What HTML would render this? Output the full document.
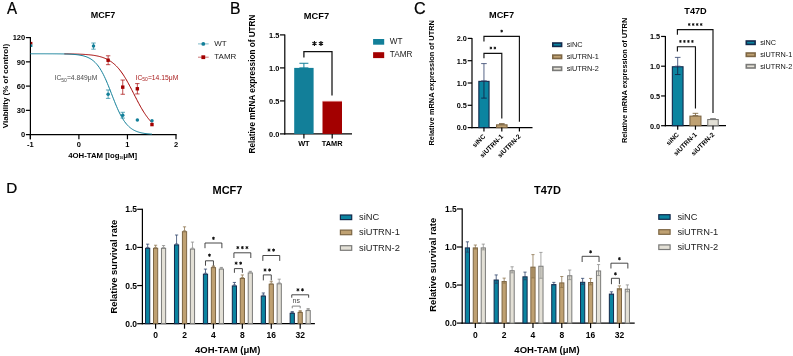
<!DOCTYPE html>
<html><head><meta charset="utf-8"><style>
html,body{margin:0;padding:0;background:#fff;overflow:hidden;}
svg{display:block;font-family:"Liberation Sans", sans-serif;will-change:transform;-webkit-font-smoothing:antialiased;}
</style></head><body>
<svg width="793" height="356" viewBox="0 0 793 356">
<rect x="0" y="0" width="793" height="356" fill="#fff"/>
<text transform="translate(6.9 13.7) scale(0.93 1)" font-size="16.2" fill="#000" stroke="#000" stroke-width="0.25">A</text>
<text transform="translate(230.1 13.7) scale(0.97 1)" font-size="16.2" fill="#000" stroke="#000" stroke-width="0.25">B</text>
<text transform="translate(413.9 13.7) scale(1.0 1)" font-size="16.2" fill="#000" stroke="#000" stroke-width="0.25">C</text>
<text transform="translate(6.3 193.1) scale(0.99 1)" font-size="15.4" fill="#000" stroke="#000" stroke-width="0.25">D</text>
<line x1="30.40" y1="37.10" x2="30.40" y2="139.30" stroke="#000" stroke-width="1.2" />
<line x1="29.80" y1="134.60" x2="176.60" y2="134.60" stroke="#000" stroke-width="1.2" />
<line x1="25.90" y1="134.60" x2="30.40" y2="134.60" stroke="#000" stroke-width="1.2" />
<text x="25.20" y="137.28" font-size="7.5" text-anchor="end" fill="#000" font-weight="bold" >0</text>
<line x1="25.90" y1="110.35" x2="30.40" y2="110.35" stroke="#000" stroke-width="1.2" />
<text x="25.20" y="113.04" font-size="7.5" text-anchor="end" fill="#000" font-weight="bold" >30</text>
<line x1="25.90" y1="86.10" x2="30.40" y2="86.10" stroke="#000" stroke-width="1.2" />
<text x="25.20" y="88.79" font-size="7.5" text-anchor="end" fill="#000" font-weight="bold" >60</text>
<line x1="25.90" y1="61.85" x2="30.40" y2="61.85" stroke="#000" stroke-width="1.2" />
<text x="25.20" y="64.54" font-size="7.5" text-anchor="end" fill="#000" font-weight="bold" >90</text>
<line x1="25.90" y1="37.60" x2="30.40" y2="37.60" stroke="#000" stroke-width="1.2" />
<text x="25.20" y="40.29" font-size="7.5" text-anchor="end" fill="#000" font-weight="bold" >120</text>
<line x1="30.35" y1="134.60" x2="30.35" y2="139.30" stroke="#000" stroke-width="1.2" />
<text x="30.35" y="147.38" font-size="7.5" text-anchor="middle" fill="#000" font-weight="bold" >-1</text>
<line x1="78.90" y1="134.60" x2="78.90" y2="139.30" stroke="#000" stroke-width="1.2" />
<text x="78.90" y="147.38" font-size="7.5" text-anchor="middle" fill="#000" font-weight="bold" >0</text>
<line x1="127.45" y1="134.60" x2="127.45" y2="139.30" stroke="#000" stroke-width="1.2" />
<text x="127.45" y="147.38" font-size="7.5" text-anchor="middle" fill="#000" font-weight="bold" >1</text>
<line x1="176.00" y1="134.60" x2="176.00" y2="139.30" stroke="#000" stroke-width="1.2" />
<text x="176.00" y="147.38" font-size="7.5" text-anchor="middle" fill="#000" font-weight="bold" >2</text>
<text x="103.00" y="18.12" font-size="9" text-anchor="middle" fill="#000" font-weight="bold" >MCF7</text>
<text x="102.60" y="157.79" font-size="7.8" text-anchor="middle" fill="#000" font-weight="bold" >4OH-TAM [log<tspan font-size="3.2" dy="1.2">10</tspan><tspan dy="-1.2">μM]</tspan></text>
<text x="7.50" y="86.00" font-size="8" text-anchor="middle" fill="#000" font-weight="bold" transform="rotate(-90 7.50 86.00)" >Viability (% of control)</text>
<polyline points="64.34,53.86 65.07,53.87 65.80,53.88 66.53,53.88 67.26,53.89 67.99,53.90 68.72,53.91 69.45,53.92 70.18,53.93 70.91,53.94 71.64,53.96 72.37,53.97 73.10,53.99 73.83,54.00 74.56,54.02 75.29,54.04 76.02,54.06 76.75,54.08 77.48,54.10 78.21,54.12 78.94,54.15 79.67,54.18 80.40,54.21 81.13,54.24 81.86,54.27 82.59,54.31 83.32,54.35 84.05,54.39 84.78,54.44 85.51,54.49 86.24,54.54 86.97,54.60 87.70,54.66 88.43,54.72 89.16,54.79 89.89,54.86 90.62,54.94 91.36,55.03 92.09,55.12 92.82,55.22 93.55,55.32 94.28,55.43 95.01,55.55 95.74,55.68 96.47,55.82 97.20,55.97 97.93,56.12 98.66,56.29 99.39,56.47 100.12,56.66 100.85,56.86 101.58,57.08 102.31,57.32 103.04,57.57 103.77,57.83 104.50,58.11 105.23,58.41 105.96,58.73 106.69,59.08 107.42,59.44 108.15,59.83 108.88,60.24 109.61,60.67 110.34,61.13 111.07,61.62 111.80,62.14 112.53,62.69 113.26,63.27 113.99,63.88 114.72,64.52 115.45,65.20 116.18,65.92 116.91,66.67 117.64,67.46 118.38,68.28 119.11,69.15 119.84,70.05 120.57,70.99 121.30,71.97 122.03,72.99 122.76,74.05 123.49,75.15 124.22,76.29 124.95,77.46 125.68,78.66 126.41,79.90 127.14,81.18 127.87,82.48 128.60,83.80 129.33,85.16 130.06,86.53 130.79,87.92 131.52,89.33 132.25,90.75 132.98,92.18 133.71,93.61 134.44,95.04 135.17,96.48 135.90,97.90 136.63,99.32 137.36,100.72 138.09,102.11 138.82,103.48 139.55,104.83 140.28,106.15 141.01,107.45 141.74,108.71 142.47,109.95 143.20,111.14 143.93,112.31 144.67,113.44 145.40,114.53 146.13,115.58 146.86,116.59 147.59,117.57 148.32,118.50 149.05,119.40 149.78,120.25 150.51,121.07 151.24,121.85 151.97,122.60" fill="none" stroke="#a30000" stroke-width="1.0"/>
<polyline points="30.35,53.77 31.36,53.77 32.38,53.77 33.39,53.77 34.40,53.77 35.42,53.77 36.43,53.78 37.44,53.78 38.46,53.78 39.47,53.78 40.48,53.78 41.50,53.78 42.51,53.78 43.53,53.78 44.54,53.78 45.55,53.79 46.57,53.79 47.58,53.79 48.59,53.80 49.61,53.80 50.62,53.80 51.63,53.81 52.65,53.81 53.66,53.82 54.67,53.82 55.69,53.83 56.70,53.84 57.71,53.85 58.73,53.86 59.74,53.87 60.75,53.89 61.77,53.91 62.78,53.92 63.79,53.95 64.81,53.97 65.82,54.00 66.84,54.03 67.85,54.06 68.86,54.10 69.88,54.15 70.89,54.20 71.90,54.26 72.92,54.33 73.93,54.41 74.94,54.50 75.96,54.60 76.97,54.71 77.98,54.84 79.00,54.98 80.01,55.15 81.02,55.34 82.04,55.55 83.05,55.79 84.06,56.06 85.08,56.37 86.09,56.71 87.10,57.10 88.12,57.55 89.13,58.04 90.15,58.60 91.16,59.22 92.17,59.92 93.19,60.70 94.20,61.57 95.21,62.53 96.23,63.60 97.24,64.77 98.25,66.06 99.27,67.48 100.28,69.02 101.29,70.69 102.31,72.49 103.32,74.42 104.33,76.48 105.35,78.66 106.36,80.95 107.37,83.34 108.39,85.81 109.40,88.35 110.42,90.94 111.43,93.56 112.44,96.18 113.46,98.78 114.47,101.35 115.48,103.86 116.50,106.29 117.51,108.63 118.52,110.86 119.54,112.97 120.55,114.97 121.56,116.83 122.58,118.57 123.59,120.17 124.60,121.64 125.62,122.99 126.63,124.23 127.64,125.34 128.66,126.36 129.67,127.27 130.68,128.09 131.70,128.82 132.71,129.48 133.73,130.07 134.74,130.59 135.75,131.06 136.77,131.47 137.78,131.84 138.79,132.17 139.81,132.46 140.82,132.71 141.83,132.94 142.85,133.13 143.86,133.31 144.87,133.47 145.89,133.60 146.90,133.72 147.91,133.83 148.93,133.92 149.94,134.00 150.95,134.08 151.97,134.14" fill="none" stroke="#127f99" stroke-width="1.0"/>
<rect x="30.80" y="41.90" width="1.60" height="2.60" fill="#a30000"/>
<rect x="30.80" y="44.40" width="1.60" height="2.60" fill="#127f99"/>
<line x1="93.51" y1="43.02" x2="93.51" y2="49.16" stroke="#127f99" stroke-width="0.7" />
<line x1="91.31" y1="43.02" x2="95.71" y2="43.02" stroke="#127f99" stroke-width="0.7" />
<line x1="91.31" y1="49.16" x2="95.71" y2="49.16" stroke="#127f99" stroke-width="0.7" />
<circle cx="93.51" cy="46.09" r="1.75" fill="#127f99"/>
<line x1="108.13" y1="89.98" x2="108.13" y2="98.39" stroke="#127f99" stroke-width="0.7" />
<line x1="105.93" y1="89.98" x2="110.33" y2="89.98" stroke="#127f99" stroke-width="0.7" />
<line x1="105.93" y1="98.39" x2="110.33" y2="98.39" stroke="#127f99" stroke-width="0.7" />
<circle cx="108.13" cy="94.19" r="1.75" fill="#127f99"/>
<line x1="122.74" y1="112.29" x2="122.74" y2="118.11" stroke="#127f99" stroke-width="0.7" />
<line x1="120.54" y1="112.29" x2="124.94" y2="112.29" stroke="#127f99" stroke-width="0.7" />
<line x1="120.54" y1="118.11" x2="124.94" y2="118.11" stroke="#127f99" stroke-width="0.7" />
<circle cx="122.74" cy="115.20" r="1.75" fill="#127f99"/>
<circle cx="137.35" cy="120.05" r="1.75" fill="#127f99"/>
<circle cx="151.97" cy="120.86" r="1.75" fill="#127f99"/>
<line x1="108.13" y1="55.79" x2="108.13" y2="64.68" stroke="#a30000" stroke-width="0.7" />
<line x1="105.93" y1="55.79" x2="110.33" y2="55.79" stroke="#a30000" stroke-width="0.7" />
<line x1="105.93" y1="64.68" x2="110.33" y2="64.68" stroke="#a30000" stroke-width="0.7" />
<rect x="106.43" y="58.54" width="3.40" height="3.40" fill="#a30000"/>
<line x1="122.74" y1="80.04" x2="122.74" y2="94.27" stroke="#a30000" stroke-width="0.7" />
<line x1="120.54" y1="80.04" x2="124.94" y2="80.04" stroke="#a30000" stroke-width="0.7" />
<line x1="120.54" y1="94.27" x2="124.94" y2="94.27" stroke="#a30000" stroke-width="0.7" />
<rect x="121.04" y="85.45" width="3.40" height="3.40" fill="#a30000"/>
<line x1="137.35" y1="83.60" x2="137.35" y2="93.94" stroke="#a30000" stroke-width="0.7" />
<line x1="135.15" y1="83.60" x2="139.55" y2="83.60" stroke="#a30000" stroke-width="0.7" />
<line x1="135.15" y1="93.94" x2="139.55" y2="93.94" stroke="#a30000" stroke-width="0.7" />
<rect x="135.65" y="87.07" width="3.40" height="3.40" fill="#a30000"/>
<rect x="150.27" y="122.88" width="3.40" height="3.40" fill="#a30000"/>
<text x="54.60" y="80.00" font-size="6.75" text-anchor="start" fill="#4a4a4a" >IC<tspan font-size="5" dy="1.5">50</tspan><tspan dy="-1.5">=4.849μM</tspan></text>
<text x="135.60" y="79.80" font-size="6.75" text-anchor="start" fill="#a81c1c" >IC<tspan font-size="5" dy="1.5">50</tspan><tspan dy="-1.5">=14.15μM</tspan></text>
<line x1="198.00" y1="43.90" x2="208.70" y2="43.90" stroke="#127f99" stroke-width="0.9" opacity="0.6"/>
<circle cx="203.3" cy="43.9" r="1.9" fill="#127f99"/>
<text x="214.30" y="46.06" font-size="8" text-anchor="start" fill="#1a1a1a" >WT</text>
<line x1="198.00" y1="57.20" x2="208.70" y2="57.20" stroke="#a30000" stroke-width="0.9" opacity="0.6"/>
<rect x="201.40" y="55.30" width="3.80" height="3.80" fill="#a30000"/>
<text x="214.30" y="59.36" font-size="8" text-anchor="start" fill="#1a1a1a" >TAMR</text>
<line x1="284.80" y1="34.40" x2="284.80" y2="134.50" stroke="#000" stroke-width="1.2" />
<line x1="284.20" y1="133.90" x2="352.00" y2="133.90" stroke="#000" stroke-width="1.2" />
<line x1="280.00" y1="133.90" x2="284.80" y2="133.90" stroke="#000" stroke-width="1.2" />
<text x="279.40" y="136.75" font-size="7.4" text-anchor="end" fill="#000" font-weight="bold" >0.0</text>
<line x1="280.00" y1="100.90" x2="284.80" y2="100.90" stroke="#000" stroke-width="1.2" />
<text x="279.40" y="103.75" font-size="7.4" text-anchor="end" fill="#000" font-weight="bold" >0.5</text>
<line x1="280.00" y1="67.90" x2="284.80" y2="67.90" stroke="#000" stroke-width="1.2" />
<text x="279.40" y="70.75" font-size="7.4" text-anchor="end" fill="#000" font-weight="bold" >1.0</text>
<line x1="280.00" y1="34.90" x2="284.80" y2="34.90" stroke="#000" stroke-width="1.2" />
<text x="279.40" y="37.75" font-size="7.4" text-anchor="end" fill="#000" font-weight="bold" >1.5</text>
<line x1="303.90" y1="133.90" x2="303.90" y2="138.60" stroke="#000" stroke-width="1.2" />
<text x="303.90" y="146.05" font-size="7.4" text-anchor="middle" fill="#000" font-weight="bold" >WT</text>
<line x1="332.20" y1="133.90" x2="332.20" y2="138.60" stroke="#000" stroke-width="1.2" />
<text x="332.20" y="146.05" font-size="7.4" text-anchor="middle" fill="#000" font-weight="bold" >TAMR</text>
<rect x="294.20" y="67.90" width="19.40" height="66.00" fill="#127f99"/>
<line x1="303.90" y1="63.28" x2="303.90" y2="67.90" stroke="#127f99" stroke-width="1" />
<line x1="299.40" y1="63.28" x2="308.40" y2="63.28" stroke="#127f99" stroke-width="1" />
<line x1="299.40" y1="67.90" x2="308.40" y2="67.90" stroke="#127f99" stroke-width="1" />
<rect x="322.50" y="101.56" width="19.50" height="32.34" fill="#a30000"/>
<line x1="322.50" y1="101.36" x2="342.00" y2="101.36" stroke="#c44" stroke-width="0.6" />
<path d="M303.9,57.4 V51.6 H332.0 V95.5" stroke="#111" stroke-width="1.25" fill="none" />
<path d="M314.45,41.10L314.45,45.90M312.37,42.30L316.53,44.70M316.53,42.30L312.37,44.70" stroke="#111" stroke-width="1.15" fill="none"/>
<path d="M320.95,41.10L320.95,45.90M318.87,42.30L323.03,44.70M323.03,42.30L318.87,44.70" stroke="#111" stroke-width="1.15" fill="none"/>
<text x="316.50" y="18.53" font-size="9.3" text-anchor="middle" fill="#000" font-weight="bold" >MCF7</text>
<text x="254.50" y="84.00" font-size="8.2" text-anchor="middle" fill="#000" font-weight="bold" transform="rotate(-90 254.50 84.00)" >Relative mRNA expression of UTRN</text>
<rect x="373.10" y="39.00" width="11.10" height="5.70" fill="#127f99"/>
<text x="389.80" y="43.84" font-size="8.2" text-anchor="start" fill="#1a1a1a" >WT</text>
<rect x="373.10" y="52.20" width="11.10" height="5.90" fill="#a30000"/>
<text x="389.80" y="57.24" font-size="8.2" text-anchor="start" fill="#1a1a1a" >TAMR</text>
<line x1="472.00" y1="37.90" x2="472.00" y2="128.20" stroke="#000" stroke-width="1.2" />
<line x1="471.40" y1="127.60" x2="532.50" y2="127.60" stroke="#000" stroke-width="1.2" />
<line x1="467.70" y1="127.60" x2="472.00" y2="127.60" stroke="#000" stroke-width="1.2" />
<text x="466.80" y="130.41" font-size="7.3" text-anchor="end" fill="#000" font-weight="bold" >0.0</text>
<line x1="467.70" y1="105.30" x2="472.00" y2="105.30" stroke="#000" stroke-width="1.2" />
<text x="466.80" y="108.11" font-size="7.3" text-anchor="end" fill="#000" font-weight="bold" >0.5</text>
<line x1="467.70" y1="83.00" x2="472.00" y2="83.00" stroke="#000" stroke-width="1.2" />
<text x="466.80" y="85.81" font-size="7.3" text-anchor="end" fill="#000" font-weight="bold" >1.0</text>
<line x1="467.70" y1="60.70" x2="472.00" y2="60.70" stroke="#000" stroke-width="1.2" />
<text x="466.80" y="63.51" font-size="7.3" text-anchor="end" fill="#000" font-weight="bold" >1.5</text>
<line x1="467.70" y1="38.40" x2="472.00" y2="38.40" stroke="#000" stroke-width="1.2" />
<text x="466.80" y="41.21" font-size="7.3" text-anchor="end" fill="#000" font-weight="bold" >2.0</text>
<rect x="478.85" y="81.36" width="10.20" height="46.24" fill="#0b84a0" stroke="#13294b" stroke-width="1.1"/>
<line x1="483.95" y1="63.60" x2="483.95" y2="80.81" stroke="#45557a" stroke-width="0.9" />
<line x1="481.15" y1="63.60" x2="486.75" y2="63.60" stroke="#45557a" stroke-width="0.9" />
<line x1="481.15" y1="80.81" x2="486.75" y2="80.81" stroke="#45557a" stroke-width="0.9" />
<line x1="483.95" y1="80.81" x2="483.95" y2="98.12" stroke="#13294b" stroke-width="0.9" />
<line x1="481.15" y1="98.12" x2="486.75" y2="98.12" stroke="#13294b" stroke-width="0.9" />
<line x1="483.95" y1="127.60" x2="483.95" y2="131.60" stroke="#000" stroke-width="1.2" />
<text x="485.75" y="137.00" font-size="6.6" text-anchor="end" fill="#000" font-weight="bold" transform="rotate(-45 485.75 137.00)" >siNC</text>
<rect x="496.55" y="124.85" width="10.50" height="2.75" fill="#bfa172" stroke="#7d6644" stroke-width="1.1"/>
<line x1="501.80" y1="123.63" x2="501.80" y2="124.30" stroke="#7d6644" stroke-width="0.9" />
<line x1="499.00" y1="123.63" x2="504.60" y2="123.63" stroke="#7d6644" stroke-width="0.9" />
<line x1="499.00" y1="124.30" x2="504.60" y2="124.30" stroke="#7d6644" stroke-width="0.9" />
<line x1="501.80" y1="127.60" x2="501.80" y2="131.60" stroke="#000" stroke-width="1.2" />
<text x="503.60" y="137.00" font-size="6.6" text-anchor="end" fill="#000" font-weight="bold" transform="rotate(-45 503.60 137.00)" >siUTRN-1</text>
<rect x="514.30" y="127.61" width="10.20" height="-0.01" fill="#e3e0d6" stroke="#7a7a78" stroke-width="1.1"/>
<line x1="519.40" y1="127.60" x2="519.40" y2="131.60" stroke="#000" stroke-width="1.2" />
<text x="521.20" y="137.00" font-size="6.6" text-anchor="end" fill="#000" font-weight="bold" transform="rotate(-45 521.20 137.00)" >siUTRN-2</text>
<text x="501.60" y="18.49" font-size="9.2" text-anchor="middle" fill="#000" font-weight="bold" >MCF7</text>
<text x="434.00" y="82.80" font-size="7.4" text-anchor="middle" fill="#000" font-weight="bold" transform="rotate(-90 434.00 82.80)" >Relative mRNA expression of UTRN</text>
<path d="M483.95,41.4 V36.3 H519.4 V121.7" stroke="#111" stroke-width="1.15" fill="none" />
<path d="M501.67,29.75L501.67,32.45M500.51,30.43L502.84,31.78M502.84,30.43L500.51,31.78" stroke="#111" stroke-width="0.95" fill="none"/>
<path d="M483.95,58.2 V53.3 H501.8 V118.5" stroke="#111" stroke-width="1.15" fill="none" />
<path d="M490.88,46.65L490.88,49.35M489.71,47.33L492.04,48.67M492.04,47.33L489.71,48.67" stroke="#111" stroke-width="0.95" fill="none"/>
<path d="M494.88,46.65L494.88,49.35M493.71,47.33L496.04,48.67M496.04,47.33L493.71,48.67" stroke="#111" stroke-width="0.95" fill="none"/>
<rect x="552.80" y="43.00" width="8.80" height="3.40" fill="#0b84a0" stroke="#13294b" stroke-width="1.6"/>
<text x="566.70" y="47.21" font-size="7.3" text-anchor="start" fill="#111" >siNC</text>
<rect x="552.80" y="55.10" width="8.80" height="3.40" fill="#bfa172" stroke="#7d6644" stroke-width="1.6"/>
<text x="566.70" y="59.31" font-size="7.3" text-anchor="start" fill="#111" >siUTRN-1</text>
<rect x="552.80" y="67.00" width="8.80" height="3.40" fill="#e3e0d6" stroke="#7a7a78" stroke-width="1.6"/>
<text x="566.70" y="71.21" font-size="7.3" text-anchor="start" fill="#111" >siUTRN-2</text>
<line x1="665.40" y1="35.95" x2="665.40" y2="126.30" stroke="#000" stroke-width="1.2" />
<line x1="664.80" y1="125.70" x2="726.00" y2="125.70" stroke="#000" stroke-width="1.2" />
<line x1="661.10" y1="125.70" x2="665.40" y2="125.70" stroke="#000" stroke-width="1.2" />
<text x="660.20" y="128.51" font-size="7.3" text-anchor="end" fill="#000" font-weight="bold" >0.0</text>
<line x1="661.10" y1="95.95" x2="665.40" y2="95.95" stroke="#000" stroke-width="1.2" />
<text x="660.20" y="98.76" font-size="7.3" text-anchor="end" fill="#000" font-weight="bold" >0.5</text>
<line x1="661.10" y1="66.20" x2="665.40" y2="66.20" stroke="#000" stroke-width="1.2" />
<text x="660.20" y="69.01" font-size="7.3" text-anchor="end" fill="#000" font-weight="bold" >1.0</text>
<line x1="661.10" y1="36.45" x2="665.40" y2="36.45" stroke="#000" stroke-width="1.2" />
<text x="660.20" y="39.26" font-size="7.3" text-anchor="end" fill="#000" font-weight="bold" >1.5</text>
<rect x="672.35" y="66.75" width="10.70" height="58.95" fill="#0b84a0" stroke="#13294b" stroke-width="1.1"/>
<line x1="677.70" y1="57.39" x2="677.70" y2="66.20" stroke="#45557a" stroke-width="0.9" />
<line x1="674.90" y1="57.39" x2="680.50" y2="57.39" stroke="#45557a" stroke-width="0.9" />
<line x1="674.90" y1="66.20" x2="680.50" y2="66.20" stroke="#45557a" stroke-width="0.9" />
<line x1="677.70" y1="66.20" x2="677.70" y2="74.53" stroke="#13294b" stroke-width="0.9" />
<line x1="674.90" y1="74.53" x2="680.50" y2="74.53" stroke="#13294b" stroke-width="0.9" />
<line x1="677.70" y1="125.70" x2="677.70" y2="129.70" stroke="#000" stroke-width="1.2" />
<text x="679.50" y="135.10" font-size="6.6" text-anchor="end" fill="#000" font-weight="bold" transform="rotate(-45 679.50 135.10)" >siNC</text>
<rect x="689.95" y="116.14" width="11.00" height="9.56" fill="#bfa172" stroke="#7d6644" stroke-width="1.1"/>
<line x1="695.45" y1="113.32" x2="695.45" y2="115.59" stroke="#7d6644" stroke-width="0.9" />
<line x1="692.65" y1="113.32" x2="698.25" y2="113.32" stroke="#7d6644" stroke-width="0.9" />
<line x1="692.65" y1="115.59" x2="698.25" y2="115.59" stroke="#7d6644" stroke-width="0.9" />
<line x1="695.45" y1="125.70" x2="695.45" y2="129.70" stroke="#000" stroke-width="1.2" />
<text x="697.25" y="135.10" font-size="6.6" text-anchor="end" fill="#000" font-weight="bold" transform="rotate(-45 697.25 135.10)" >siUTRN-1</text>
<rect x="707.75" y="119.53" width="10.50" height="6.17" fill="#e3e0d6" stroke="#7a7a78" stroke-width="1.1"/>
<line x1="713.00" y1="118.68" x2="713.00" y2="118.98" stroke="#7a7a78" stroke-width="0.9" />
<line x1="710.20" y1="118.68" x2="715.80" y2="118.68" stroke="#7a7a78" stroke-width="0.9" />
<line x1="710.20" y1="118.98" x2="715.80" y2="118.98" stroke="#7a7a78" stroke-width="0.9" />
<line x1="713.00" y1="125.70" x2="713.00" y2="129.70" stroke="#000" stroke-width="1.2" />
<text x="714.80" y="135.10" font-size="6.6" text-anchor="end" fill="#000" font-weight="bold" transform="rotate(-45 714.80 135.10)" >siUTRN-2</text>
<text x="695.50" y="14.29" font-size="9.2" text-anchor="middle" fill="#000" font-weight="bold" >T47D</text>
<text x="627.50" y="80.40" font-size="7.4" text-anchor="middle" fill="#000" font-weight="bold" transform="rotate(-90 627.50 80.40)" >Relative mRNA expression of UTRN</text>
<path d="M677.4,34.7 V29.6 H713.0 V113.0" stroke="#111" stroke-width="1.15" fill="none" />
<path d="M689.20,23.15L689.20,25.85M688.03,23.82L690.37,25.18M690.37,23.82L688.03,25.18" stroke="#111" stroke-width="0.95" fill="none"/>
<path d="M693.20,23.15L693.20,25.85M692.03,23.82L694.37,25.18M694.37,23.82L692.03,25.18" stroke="#111" stroke-width="0.95" fill="none"/>
<path d="M697.20,23.15L697.20,25.85M696.03,23.82L698.37,25.18M698.37,23.82L696.03,25.18" stroke="#111" stroke-width="0.95" fill="none"/>
<path d="M701.20,23.15L701.20,25.85M700.03,23.82L702.37,25.18M702.37,23.82L700.03,25.18" stroke="#111" stroke-width="0.95" fill="none"/>
<path d="M677.4,51.6 V46.7 H695.45 V108.4" stroke="#111" stroke-width="1.15" fill="none" />
<path d="M680.42,40.05L680.42,42.75M679.26,40.73L681.59,42.07M681.59,40.73L679.26,42.07" stroke="#111" stroke-width="0.95" fill="none"/>
<path d="M684.42,40.05L684.42,42.75M683.26,40.73L685.59,42.07M685.59,40.73L683.26,42.07" stroke="#111" stroke-width="0.95" fill="none"/>
<path d="M688.42,40.05L688.42,42.75M687.26,40.73L689.59,42.07M689.59,40.73L687.26,42.07" stroke="#111" stroke-width="0.95" fill="none"/>
<path d="M692.42,40.05L692.42,42.75M691.26,40.73L693.59,42.07M693.59,40.73L691.26,42.07" stroke="#111" stroke-width="0.95" fill="none"/>
<rect x="746.30" y="41.00" width="8.80" height="3.40" fill="#0b84a0" stroke="#13294b" stroke-width="1.6"/>
<text x="760.20" y="45.21" font-size="7.3" text-anchor="start" fill="#111" >siNC</text>
<rect x="746.30" y="53.00" width="8.80" height="3.40" fill="#bfa172" stroke="#7d6644" stroke-width="1.6"/>
<text x="760.20" y="57.21" font-size="7.3" text-anchor="start" fill="#111" >siUTRN-1</text>
<rect x="746.30" y="64.60" width="8.80" height="3.40" fill="#e3e0d6" stroke="#7a7a78" stroke-width="1.6"/>
<text x="760.20" y="68.81" font-size="7.3" text-anchor="start" fill="#111" >siUTRN-2</text>
<line x1="142.40" y1="208.79" x2="142.40" y2="324.30" stroke="#000" stroke-width="1.2" />
<line x1="141.80" y1="323.70" x2="314.90" y2="323.70" stroke="#000" stroke-width="1.2" />
<line x1="137.20" y1="323.70" x2="142.40" y2="323.70" stroke="#000" stroke-width="1.2" />
<text x="137.00" y="326.74" font-size="8.5" text-anchor="end" fill="#000" font-weight="bold" >0.0</text>
<line x1="137.20" y1="285.56" x2="142.40" y2="285.56" stroke="#000" stroke-width="1.2" />
<text x="137.00" y="288.61" font-size="8.5" text-anchor="end" fill="#000" font-weight="bold" >0.5</text>
<line x1="137.20" y1="247.43" x2="142.40" y2="247.43" stroke="#000" stroke-width="1.2" />
<text x="137.00" y="250.47" font-size="8.5" text-anchor="end" fill="#000" font-weight="bold" >1.0</text>
<line x1="137.20" y1="209.29" x2="142.40" y2="209.29" stroke="#000" stroke-width="1.2" />
<text x="137.00" y="212.34" font-size="8.5" text-anchor="end" fill="#000" font-weight="bold" >1.5</text>
<rect x="145.55" y="248.33" width="4.20" height="75.37" fill="#0b84a0" stroke="#13294b" stroke-width="1.0"/>
<line x1="147.65" y1="244.15" x2="147.65" y2="247.43" stroke="#2a3f66" stroke-width="0.75" />
<line x1="146.05" y1="244.15" x2="149.25" y2="244.15" stroke="#2a3f66" stroke-width="0.75" />
<line x1="146.05" y1="247.43" x2="149.25" y2="247.43" stroke="#2a3f66" stroke-width="0.75" />
<rect x="153.50" y="248.33" width="4.20" height="75.37" fill="#bfa172" stroke="#7d6644" stroke-width="1.0"/>
<line x1="155.60" y1="245.22" x2="155.60" y2="247.43" stroke="#8a7048" stroke-width="0.75" />
<line x1="154.00" y1="245.22" x2="157.20" y2="245.22" stroke="#8a7048" stroke-width="0.75" />
<line x1="154.00" y1="247.43" x2="157.20" y2="247.43" stroke="#8a7048" stroke-width="0.75" />
<rect x="161.45" y="248.33" width="4.20" height="75.37" fill="#e3e0d6" stroke="#7a7a78" stroke-width="1.0"/>
<line x1="163.55" y1="245.52" x2="163.55" y2="247.43" stroke="#8a8a88" stroke-width="0.75" />
<line x1="161.95" y1="245.52" x2="165.15" y2="245.52" stroke="#8a8a88" stroke-width="0.75" />
<line x1="161.95" y1="247.43" x2="165.15" y2="247.43" stroke="#8a8a88" stroke-width="0.75" />
<line x1="155.60" y1="323.70" x2="155.60" y2="328.70" stroke="#000" stroke-width="1.2" />
<text x="155.60" y="338.04" font-size="8.5" text-anchor="middle" fill="#000" font-weight="bold" >0</text>
<rect x="174.47" y="244.90" width="4.20" height="78.80" fill="#0b84a0" stroke="#13294b" stroke-width="1.0"/>
<line x1="176.57" y1="235.00" x2="176.57" y2="244.00" stroke="#2a3f66" stroke-width="0.75" />
<line x1="174.97" y1="235.00" x2="178.17" y2="235.00" stroke="#2a3f66" stroke-width="0.75" />
<line x1="174.97" y1="244.00" x2="178.17" y2="244.00" stroke="#2a3f66" stroke-width="0.75" />
<rect x="182.42" y="231.70" width="4.20" height="92.00" fill="#bfa172" stroke="#7d6644" stroke-width="1.0"/>
<line x1="184.52" y1="226.84" x2="184.52" y2="230.80" stroke="#8a7048" stroke-width="0.75" />
<line x1="182.92" y1="226.84" x2="186.12" y2="226.84" stroke="#8a7048" stroke-width="0.75" />
<line x1="182.92" y1="230.80" x2="186.12" y2="230.80" stroke="#8a7048" stroke-width="0.75" />
<rect x="190.37" y="249.09" width="4.20" height="74.61" fill="#e3e0d6" stroke="#7a7a78" stroke-width="1.0"/>
<line x1="192.47" y1="242.09" x2="192.47" y2="248.19" stroke="#8a8a88" stroke-width="0.75" />
<line x1="190.87" y1="242.09" x2="194.07" y2="242.09" stroke="#8a8a88" stroke-width="0.75" />
<line x1="190.87" y1="248.19" x2="194.07" y2="248.19" stroke="#8a8a88" stroke-width="0.75" />
<line x1="184.52" y1="323.70" x2="184.52" y2="328.70" stroke="#000" stroke-width="1.2" />
<text x="184.52" y="338.04" font-size="8.5" text-anchor="middle" fill="#000" font-weight="bold" >2</text>
<rect x="203.39" y="274.19" width="4.20" height="49.51" fill="#0b84a0" stroke="#13294b" stroke-width="1.0"/>
<line x1="205.49" y1="269.09" x2="205.49" y2="273.29" stroke="#2a3f66" stroke-width="0.75" />
<line x1="203.89" y1="269.09" x2="207.09" y2="269.09" stroke="#2a3f66" stroke-width="0.75" />
<line x1="203.89" y1="273.29" x2="207.09" y2="273.29" stroke="#2a3f66" stroke-width="0.75" />
<rect x="211.34" y="267.63" width="4.20" height="56.07" fill="#bfa172" stroke="#7d6644" stroke-width="1.0"/>
<line x1="213.44" y1="265.96" x2="213.44" y2="266.73" stroke="#8a7048" stroke-width="0.75" />
<line x1="211.84" y1="265.96" x2="215.04" y2="265.96" stroke="#8a7048" stroke-width="0.75" />
<line x1="211.84" y1="266.73" x2="215.04" y2="266.73" stroke="#8a7048" stroke-width="0.75" />
<rect x="219.29" y="269.08" width="4.20" height="54.62" fill="#e3e0d6" stroke="#7a7a78" stroke-width="1.0"/>
<line x1="221.39" y1="267.41" x2="221.39" y2="268.18" stroke="#8a8a88" stroke-width="0.75" />
<line x1="219.79" y1="267.41" x2="222.99" y2="267.41" stroke="#8a8a88" stroke-width="0.75" />
<line x1="219.79" y1="268.18" x2="222.99" y2="268.18" stroke="#8a8a88" stroke-width="0.75" />
<line x1="213.44" y1="323.70" x2="213.44" y2="328.70" stroke="#000" stroke-width="1.2" />
<text x="213.44" y="338.04" font-size="8.5" text-anchor="middle" fill="#000" font-weight="bold" >4</text>
<rect x="232.31" y="285.93" width="4.20" height="37.77" fill="#0b84a0" stroke="#13294b" stroke-width="1.0"/>
<line x1="234.41" y1="282.44" x2="234.41" y2="285.03" stroke="#2a3f66" stroke-width="0.75" />
<line x1="232.81" y1="282.44" x2="236.01" y2="282.44" stroke="#2a3f66" stroke-width="0.75" />
<line x1="232.81" y1="285.03" x2="236.01" y2="285.03" stroke="#2a3f66" stroke-width="0.75" />
<rect x="240.26" y="278.46" width="4.20" height="45.24" fill="#bfa172" stroke="#7d6644" stroke-width="1.0"/>
<line x1="242.36" y1="274.96" x2="242.36" y2="277.56" stroke="#8a7048" stroke-width="0.75" />
<line x1="240.76" y1="274.96" x2="243.96" y2="274.96" stroke="#8a7048" stroke-width="0.75" />
<line x1="240.76" y1="277.56" x2="243.96" y2="277.56" stroke="#8a7048" stroke-width="0.75" />
<rect x="248.21" y="272.97" width="4.20" height="50.73" fill="#e3e0d6" stroke="#7a7a78" stroke-width="1.0"/>
<line x1="250.31" y1="271.30" x2="250.31" y2="272.07" stroke="#8a8a88" stroke-width="0.75" />
<line x1="248.71" y1="271.30" x2="251.91" y2="271.30" stroke="#8a8a88" stroke-width="0.75" />
<line x1="248.71" y1="272.07" x2="251.91" y2="272.07" stroke="#8a8a88" stroke-width="0.75" />
<line x1="242.36" y1="323.70" x2="242.36" y2="328.70" stroke="#000" stroke-width="1.2" />
<text x="242.36" y="338.04" font-size="8.5" text-anchor="middle" fill="#000" font-weight="bold" >8</text>
<rect x="261.23" y="296.08" width="4.20" height="27.62" fill="#0b84a0" stroke="#13294b" stroke-width="1.0"/>
<line x1="263.33" y1="292.96" x2="263.33" y2="295.18" stroke="#2a3f66" stroke-width="0.75" />
<line x1="261.73" y1="292.96" x2="264.93" y2="292.96" stroke="#2a3f66" stroke-width="0.75" />
<line x1="261.73" y1="295.18" x2="264.93" y2="295.18" stroke="#2a3f66" stroke-width="0.75" />
<rect x="269.18" y="284.18" width="4.20" height="39.52" fill="#bfa172" stroke="#7d6644" stroke-width="1.0"/>
<line x1="271.28" y1="281.29" x2="271.28" y2="283.28" stroke="#8a7048" stroke-width="0.75" />
<line x1="269.68" y1="281.29" x2="272.88" y2="281.29" stroke="#8a7048" stroke-width="0.75" />
<line x1="269.68" y1="283.28" x2="272.88" y2="283.28" stroke="#8a7048" stroke-width="0.75" />
<rect x="277.13" y="283.80" width="4.20" height="39.90" fill="#e3e0d6" stroke="#7a7a78" stroke-width="1.0"/>
<line x1="279.23" y1="279.16" x2="279.23" y2="282.90" stroke="#8a8a88" stroke-width="0.75" />
<line x1="277.63" y1="279.16" x2="280.83" y2="279.16" stroke="#8a8a88" stroke-width="0.75" />
<line x1="277.63" y1="282.90" x2="280.83" y2="282.90" stroke="#8a8a88" stroke-width="0.75" />
<line x1="271.28" y1="323.70" x2="271.28" y2="328.70" stroke="#000" stroke-width="1.2" />
<text x="271.28" y="338.04" font-size="8.5" text-anchor="middle" fill="#000" font-weight="bold" >16</text>
<rect x="290.15" y="313.31" width="4.20" height="10.39" fill="#0b84a0" stroke="#13294b" stroke-width="1.0"/>
<line x1="292.25" y1="311.65" x2="292.25" y2="312.41" stroke="#2a3f66" stroke-width="0.75" />
<line x1="290.65" y1="311.65" x2="293.85" y2="311.65" stroke="#2a3f66" stroke-width="0.75" />
<line x1="290.65" y1="312.41" x2="293.85" y2="312.41" stroke="#2a3f66" stroke-width="0.75" />
<rect x="298.10" y="312.47" width="4.20" height="11.23" fill="#bfa172" stroke="#7d6644" stroke-width="1.0"/>
<line x1="300.20" y1="310.66" x2="300.20" y2="311.57" stroke="#8a7048" stroke-width="0.75" />
<line x1="298.60" y1="310.66" x2="301.80" y2="310.66" stroke="#8a7048" stroke-width="0.75" />
<line x1="298.60" y1="311.57" x2="301.80" y2="311.57" stroke="#8a7048" stroke-width="0.75" />
<rect x="306.05" y="310.57" width="4.20" height="13.13" fill="#e3e0d6" stroke="#7a7a78" stroke-width="1.0"/>
<line x1="308.15" y1="308.52" x2="308.15" y2="309.67" stroke="#8a8a88" stroke-width="0.75" />
<line x1="306.55" y1="308.52" x2="309.75" y2="308.52" stroke="#8a8a88" stroke-width="0.75" />
<line x1="306.55" y1="309.67" x2="309.75" y2="309.67" stroke="#8a8a88" stroke-width="0.75" />
<line x1="300.20" y1="323.70" x2="300.20" y2="328.70" stroke="#000" stroke-width="1.2" />
<text x="300.20" y="338.04" font-size="8.5" text-anchor="middle" fill="#000" font-weight="bold" >32</text>
<path d="M204.99,248.2 V243 H221.89 V248.2" stroke="#333" stroke-width="0.9" fill="none" />
<path d="M213.44,236.75L213.44,239.85M212.10,237.53L214.78,239.08M214.78,237.53L212.10,239.08" stroke="#111" stroke-width="1.0" fill="none"/>
<path d="M205.49,265.7 V260.8 H213.44 V265.7" stroke="#333" stroke-width="0.9" fill="none" />
<path d="M209.47,253.65L209.47,256.75M208.12,254.42L210.81,255.97M210.81,254.42L208.12,255.97" stroke="#111" stroke-width="1.0" fill="none"/>
<path d="M233.91,258.0 V252.8 H250.81 V258.0" stroke="#333" stroke-width="0.9" fill="none" />
<path d="M237.81,246.05L237.81,249.15M236.47,246.82L239.15,248.38M239.15,246.82L236.47,248.38" stroke="#111" stroke-width="1.0" fill="none"/>
<path d="M242.36,246.05L242.36,249.15M241.02,246.82L243.70,248.38M243.70,246.82L241.02,248.38" stroke="#111" stroke-width="1.0" fill="none"/>
<path d="M246.91,246.05L246.91,249.15M245.57,246.82L248.25,248.38M248.25,246.82L245.57,248.38" stroke="#111" stroke-width="1.0" fill="none"/>
<path d="M234.41,272.8 V268.6 H242.36 V272.8" stroke="#333" stroke-width="0.9" fill="none" />
<path d="M236.11,261.65L236.11,264.75M234.77,262.43L237.45,263.97M237.45,262.43L234.77,263.97" stroke="#111" stroke-width="1.0" fill="none"/>
<path d="M240.66,261.65L240.66,264.75M239.32,262.43L242.00,263.97M242.00,262.43L239.32,263.97" stroke="#111" stroke-width="1.0" fill="none"/>
<path d="M262.83,260.9 V255.5 H279.73 V260.9" stroke="#333" stroke-width="0.9" fill="none" />
<path d="M269.00,248.55L269.00,251.65M267.66,249.32L270.35,250.88M270.35,249.32L267.66,250.88" stroke="#111" stroke-width="1.0" fill="none"/>
<path d="M273.56,248.55L273.56,251.65M272.21,249.32L274.90,250.88M274.90,249.32L272.21,250.88" stroke="#111" stroke-width="1.0" fill="none"/>
<path d="M263.33,280.4 V274.9 H271.28 V280.4" stroke="#333" stroke-width="0.9" fill="none" />
<path d="M265.03,268.45L265.03,271.55M263.69,269.23L266.37,270.77M266.37,269.23L263.69,270.77" stroke="#111" stroke-width="1.0" fill="none"/>
<path d="M269.58,268.45L269.58,271.55M268.24,269.23L270.92,270.77M270.92,269.23L268.24,270.77" stroke="#111" stroke-width="1.0" fill="none"/>
<path d="M291.75,297.7 V294.8 H308.65 V297.7" stroke="#333" stroke-width="0.9" fill="none" />
<path d="M297.93,288.25L297.93,291.35M296.58,289.03L299.27,290.57M299.27,289.03L296.58,290.57" stroke="#111" stroke-width="1.0" fill="none"/>
<path d="M302.48,288.25L302.48,291.35M301.13,289.03L303.82,290.57M303.82,289.03L301.13,290.57" stroke="#111" stroke-width="1.0" fill="none"/>
<path d="M292.25,308.3 V306.1 H300.20 V308.3" stroke="#777" stroke-width="0.9" fill="none" />
<text x="296.23" y="303.11" font-size="7" text-anchor="middle" fill="#444" >ns</text>
<text x="227.50" y="194.04" font-size="11" text-anchor="middle" fill="#000" font-weight="bold" >MCF7</text>
<text x="116.60" y="266.60" font-size="9.4" text-anchor="middle" fill="#000" font-weight="bold" transform="rotate(-90 116.60 266.60)" >Relative survival rate</text>
<text x="227.70" y="352.90" font-size="9.5" text-anchor="middle" fill="#000" font-weight="bold" >4OH-TAM (μM)</text>
<rect x="340.40" y="215.00" width="11.30" height="4.60" fill="#0b84a0" stroke="#13294b" stroke-width="1.2"/>
<text x="359.00" y="220.13" font-size="9.3" text-anchor="start" fill="#222" >siNC</text>
<rect x="340.40" y="230.10" width="11.30" height="4.60" fill="#bfa172" stroke="#7d6644" stroke-width="1.2"/>
<text x="359.00" y="235.23" font-size="9.3" text-anchor="start" fill="#222" >siUTRN-1</text>
<rect x="340.40" y="245.70" width="11.30" height="4.60" fill="#e3e0d6" stroke="#7a7a78" stroke-width="1.2"/>
<text x="359.00" y="250.83" font-size="9.3" text-anchor="start" fill="#222" >siUTRN-2</text>
<line x1="462.20" y1="208.45" x2="462.20" y2="323.70" stroke="#000" stroke-width="1.2" />
<line x1="461.60" y1="323.10" x2="634.70" y2="323.10" stroke="#000" stroke-width="1.2" />
<line x1="457.00" y1="323.10" x2="462.20" y2="323.10" stroke="#000" stroke-width="1.2" />
<text x="456.80" y="326.14" font-size="8.5" text-anchor="end" fill="#000" font-weight="bold" >0.0</text>
<line x1="457.00" y1="285.05" x2="462.20" y2="285.05" stroke="#000" stroke-width="1.2" />
<text x="456.80" y="288.09" font-size="8.5" text-anchor="end" fill="#000" font-weight="bold" >0.5</text>
<line x1="457.00" y1="247.00" x2="462.20" y2="247.00" stroke="#000" stroke-width="1.2" />
<text x="456.80" y="250.04" font-size="8.5" text-anchor="end" fill="#000" font-weight="bold" >1.0</text>
<line x1="457.00" y1="208.95" x2="462.20" y2="208.95" stroke="#000" stroke-width="1.2" />
<text x="456.80" y="211.99" font-size="8.5" text-anchor="end" fill="#000" font-weight="bold" >1.5</text>
<rect x="465.30" y="247.90" width="4.20" height="75.20" fill="#0b84a0" stroke="#13294b" stroke-width="1.0"/>
<line x1="467.40" y1="241.83" x2="467.40" y2="252.17" stroke="#2a3f66" stroke-width="0.75" />
<line x1="465.80" y1="241.83" x2="469.00" y2="241.83" stroke="#2a3f66" stroke-width="0.75" />
<line x1="465.80" y1="252.17" x2="469.00" y2="252.17" stroke="#2a3f66" stroke-width="0.75" />
<rect x="473.25" y="247.90" width="4.20" height="75.20" fill="#bfa172" stroke="#7d6644" stroke-width="1.0"/>
<line x1="475.35" y1="245.02" x2="475.35" y2="248.98" stroke="#8a7048" stroke-width="0.75" />
<line x1="473.75" y1="245.02" x2="476.95" y2="245.02" stroke="#8a7048" stroke-width="0.75" />
<line x1="473.75" y1="248.98" x2="476.95" y2="248.98" stroke="#8a7048" stroke-width="0.75" />
<rect x="481.20" y="247.90" width="4.20" height="75.20" fill="#e3e0d6" stroke="#7a7a78" stroke-width="1.0"/>
<line x1="483.30" y1="244.11" x2="483.30" y2="249.89" stroke="#8a8a88" stroke-width="0.75" />
<line x1="481.70" y1="244.11" x2="484.90" y2="244.11" stroke="#8a8a88" stroke-width="0.75" />
<line x1="481.70" y1="249.89" x2="484.90" y2="249.89" stroke="#8a8a88" stroke-width="0.75" />
<line x1="475.35" y1="323.10" x2="475.35" y2="328.10" stroke="#000" stroke-width="1.2" />
<text x="475.35" y="338.04" font-size="8.5" text-anchor="middle" fill="#000" font-weight="bold" >0</text>
<rect x="494.11" y="280.01" width="4.20" height="43.09" fill="#0b84a0" stroke="#13294b" stroke-width="1.0"/>
<line x1="496.21" y1="274.93" x2="496.21" y2="283.30" stroke="#2a3f66" stroke-width="0.75" />
<line x1="494.61" y1="274.93" x2="497.81" y2="274.93" stroke="#2a3f66" stroke-width="0.75" />
<line x1="494.61" y1="283.30" x2="497.81" y2="283.30" stroke="#2a3f66" stroke-width="0.75" />
<rect x="502.06" y="281.54" width="4.20" height="41.56" fill="#bfa172" stroke="#7d6644" stroke-width="1.0"/>
<line x1="504.16" y1="278.12" x2="504.16" y2="283.15" stroke="#8a7048" stroke-width="0.75" />
<line x1="502.56" y1="278.12" x2="505.76" y2="278.12" stroke="#8a7048" stroke-width="0.75" />
<line x1="502.56" y1="283.15" x2="505.76" y2="283.15" stroke="#8a7048" stroke-width="0.75" />
<rect x="510.01" y="270.73" width="4.20" height="52.37" fill="#e3e0d6" stroke="#7a7a78" stroke-width="1.0"/>
<line x1="512.11" y1="266.79" x2="512.11" y2="272.87" stroke="#8a8a88" stroke-width="0.75" />
<line x1="510.51" y1="266.79" x2="513.71" y2="266.79" stroke="#8a8a88" stroke-width="0.75" />
<line x1="510.51" y1="272.87" x2="513.71" y2="272.87" stroke="#8a8a88" stroke-width="0.75" />
<line x1="504.16" y1="323.10" x2="504.16" y2="328.10" stroke="#000" stroke-width="1.2" />
<text x="504.16" y="338.04" font-size="8.5" text-anchor="middle" fill="#000" font-weight="bold" >2</text>
<rect x="522.92" y="276.82" width="4.20" height="46.28" fill="#0b84a0" stroke="#13294b" stroke-width="1.0"/>
<line x1="525.02" y1="272.11" x2="525.02" y2="279.72" stroke="#2a3f66" stroke-width="0.75" />
<line x1="523.42" y1="272.11" x2="526.62" y2="272.11" stroke="#2a3f66" stroke-width="0.75" />
<line x1="523.42" y1="279.72" x2="526.62" y2="279.72" stroke="#2a3f66" stroke-width="0.75" />
<rect x="530.87" y="267.15" width="4.20" height="55.95" fill="#bfa172" stroke="#7d6644" stroke-width="1.0"/>
<line x1="532.97" y1="254.61" x2="532.97" y2="277.90" stroke="#8a7048" stroke-width="0.75" />
<line x1="531.37" y1="254.61" x2="534.57" y2="254.61" stroke="#8a7048" stroke-width="0.75" />
<line x1="531.37" y1="277.90" x2="534.57" y2="277.90" stroke="#8a7048" stroke-width="0.75" />
<rect x="538.82" y="266.24" width="4.20" height="56.86" fill="#e3e0d6" stroke="#7a7a78" stroke-width="1.0"/>
<line x1="540.92" y1="252.40" x2="540.92" y2="278.28" stroke="#8a8a88" stroke-width="0.75" />
<line x1="539.32" y1="252.40" x2="542.52" y2="252.40" stroke="#8a8a88" stroke-width="0.75" />
<line x1="539.32" y1="278.28" x2="542.52" y2="278.28" stroke="#8a8a88" stroke-width="0.75" />
<line x1="532.97" y1="323.10" x2="532.97" y2="328.10" stroke="#000" stroke-width="1.2" />
<text x="532.97" y="338.04" font-size="8.5" text-anchor="middle" fill="#000" font-weight="bold" >4</text>
<rect x="551.73" y="284.58" width="4.20" height="38.52" fill="#0b84a0" stroke="#13294b" stroke-width="1.0"/>
<line x1="553.83" y1="282.39" x2="553.83" y2="284.97" stroke="#2a3f66" stroke-width="0.75" />
<line x1="552.23" y1="282.39" x2="555.43" y2="282.39" stroke="#2a3f66" stroke-width="0.75" />
<line x1="552.23" y1="284.97" x2="555.43" y2="284.97" stroke="#2a3f66" stroke-width="0.75" />
<rect x="559.68" y="282.91" width="4.20" height="40.19" fill="#bfa172" stroke="#7d6644" stroke-width="1.0"/>
<line x1="561.78" y1="276.53" x2="561.78" y2="287.49" stroke="#8a7048" stroke-width="0.75" />
<line x1="560.18" y1="276.53" x2="563.38" y2="276.53" stroke="#8a7048" stroke-width="0.75" />
<line x1="560.18" y1="287.49" x2="563.38" y2="287.49" stroke="#8a7048" stroke-width="0.75" />
<rect x="567.63" y="275.75" width="4.20" height="47.35" fill="#e3e0d6" stroke="#7a7a78" stroke-width="1.0"/>
<line x1="569.73" y1="270.06" x2="569.73" y2="279.65" stroke="#8a8a88" stroke-width="0.75" />
<line x1="568.13" y1="270.06" x2="571.33" y2="270.06" stroke="#8a8a88" stroke-width="0.75" />
<line x1="568.13" y1="279.65" x2="571.33" y2="279.65" stroke="#8a8a88" stroke-width="0.75" />
<line x1="561.78" y1="323.10" x2="561.78" y2="328.10" stroke="#000" stroke-width="1.2" />
<text x="561.78" y="338.04" font-size="8.5" text-anchor="middle" fill="#000" font-weight="bold" >8</text>
<rect x="580.54" y="282.30" width="4.20" height="40.80" fill="#0b84a0" stroke="#13294b" stroke-width="1.0"/>
<line x1="582.64" y1="278.35" x2="582.64" y2="284.44" stroke="#2a3f66" stroke-width="0.75" />
<line x1="581.04" y1="278.35" x2="584.24" y2="278.35" stroke="#2a3f66" stroke-width="0.75" />
<line x1="581.04" y1="284.44" x2="584.24" y2="284.44" stroke="#2a3f66" stroke-width="0.75" />
<rect x="588.49" y="282.53" width="4.20" height="40.57" fill="#bfa172" stroke="#7d6644" stroke-width="1.0"/>
<line x1="590.59" y1="278.43" x2="590.59" y2="284.82" stroke="#8a7048" stroke-width="0.75" />
<line x1="588.99" y1="278.43" x2="592.19" y2="278.43" stroke="#8a7048" stroke-width="0.75" />
<line x1="588.99" y1="284.82" x2="592.19" y2="284.82" stroke="#8a7048" stroke-width="0.75" />
<rect x="596.44" y="270.96" width="4.20" height="52.14" fill="#e3e0d6" stroke="#7a7a78" stroke-width="1.0"/>
<line x1="598.54" y1="264.58" x2="598.54" y2="275.54" stroke="#8a8a88" stroke-width="0.75" />
<line x1="596.94" y1="264.58" x2="600.14" y2="264.58" stroke="#8a8a88" stroke-width="0.75" />
<line x1="596.94" y1="275.54" x2="600.14" y2="275.54" stroke="#8a8a88" stroke-width="0.75" />
<line x1="590.59" y1="323.10" x2="590.59" y2="328.10" stroke="#000" stroke-width="1.2" />
<text x="590.59" y="338.04" font-size="8.5" text-anchor="middle" fill="#000" font-weight="bold" >16</text>
<rect x="609.35" y="294.09" width="4.20" height="29.01" fill="#0b84a0" stroke="#13294b" stroke-width="1.0"/>
<line x1="611.45" y1="291.82" x2="611.45" y2="294.56" stroke="#2a3f66" stroke-width="0.75" />
<line x1="609.85" y1="291.82" x2="613.05" y2="291.82" stroke="#2a3f66" stroke-width="0.75" />
<line x1="609.85" y1="294.56" x2="613.05" y2="294.56" stroke="#2a3f66" stroke-width="0.75" />
<rect x="617.30" y="288.77" width="4.20" height="34.33" fill="#bfa172" stroke="#7d6644" stroke-width="1.0"/>
<line x1="619.40" y1="285.89" x2="619.40" y2="289.84" stroke="#8a7048" stroke-width="0.75" />
<line x1="617.80" y1="285.89" x2="621.00" y2="285.89" stroke="#8a7048" stroke-width="0.75" />
<line x1="617.80" y1="289.84" x2="621.00" y2="289.84" stroke="#8a7048" stroke-width="0.75" />
<rect x="625.25" y="289.22" width="4.20" height="33.88" fill="#e3e0d6" stroke="#7a7a78" stroke-width="1.0"/>
<line x1="627.35" y1="284.90" x2="627.35" y2="291.75" stroke="#8a8a88" stroke-width="0.75" />
<line x1="625.75" y1="284.90" x2="628.95" y2="284.90" stroke="#8a8a88" stroke-width="0.75" />
<line x1="625.75" y1="291.75" x2="628.95" y2="291.75" stroke="#8a8a88" stroke-width="0.75" />
<line x1="619.40" y1="323.10" x2="619.40" y2="328.10" stroke="#000" stroke-width="1.2" />
<text x="619.40" y="338.04" font-size="8.5" text-anchor="middle" fill="#000" font-weight="bold" >32</text>
<path d="M582.14,262.0 V256.3 H599.04 V262.0" stroke="#333" stroke-width="0.9" fill="none" />
<path d="M590.59,250.25L590.59,253.35M589.25,251.03L591.93,252.58M591.93,251.03L589.25,252.58" stroke="#111" stroke-width="1.0" fill="none"/>
<path d="M610.95,268.5 V263.2 H627.85 V268.5" stroke="#333" stroke-width="0.9" fill="none" />
<path d="M619.40,257.15L619.40,260.25M618.06,257.93L620.74,259.47M620.74,257.93L618.06,259.47" stroke="#111" stroke-width="1.0" fill="none"/>
<path d="M611.45,284.2 V278.3 H619.40 V284.2" stroke="#333" stroke-width="0.9" fill="none" />
<path d="M615.42,272.25L615.42,275.35M614.08,273.03L616.77,274.57M616.77,273.03L614.08,274.57" stroke="#111" stroke-width="1.0" fill="none"/>
<text x="547.40" y="194.04" font-size="11" text-anchor="middle" fill="#000" font-weight="bold" >T47D</text>
<text x="436.30" y="264.80" font-size="9.4" text-anchor="middle" fill="#000" font-weight="bold" transform="rotate(-90 436.30 264.80)" >Relative survival rate</text>
<text x="547.00" y="352.90" font-size="9.5" text-anchor="middle" fill="#000" font-weight="bold" >4OH-TAM (μM)</text>
<rect x="658.80" y="214.70" width="11.30" height="4.60" fill="#0b84a0" stroke="#13294b" stroke-width="1.2"/>
<text x="677.40" y="219.83" font-size="9.3" text-anchor="start" fill="#222" >siNC</text>
<rect x="658.80" y="229.70" width="11.30" height="4.60" fill="#bfa172" stroke="#7d6644" stroke-width="1.2"/>
<text x="677.40" y="234.83" font-size="9.3" text-anchor="start" fill="#222" >siUTRN-1</text>
<rect x="658.80" y="244.90" width="11.30" height="4.60" fill="#e3e0d6" stroke="#7a7a78" stroke-width="1.2"/>
<text x="677.40" y="250.03" font-size="9.3" text-anchor="start" fill="#222" >siUTRN-2</text>
</svg>
</body></html>
